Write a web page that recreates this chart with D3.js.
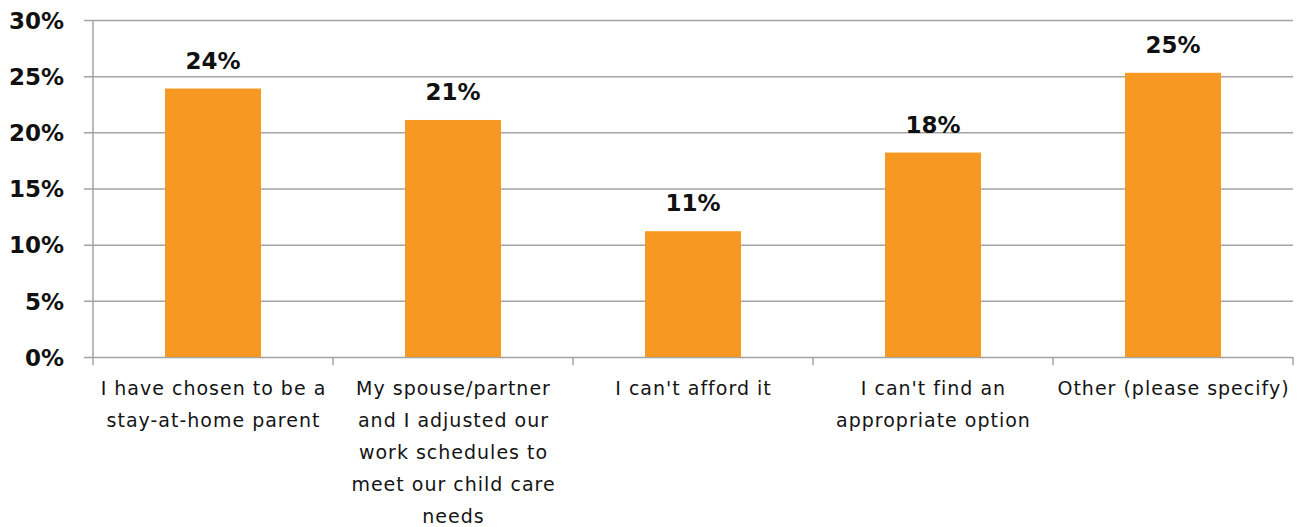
<!DOCTYPE html>
<html>
<head>
<meta charset="utf-8">
<script src="https://cdn.jsdelivr.net/npm/d3@7"></script>
<style>
  html, body { margin: 0; padding: 0; background: #ffffff; }
  svg { display: block; }
</style>
</head>
<body>
<svg id="chart" width="1302" height="527"></svg>
<script>
// Survey responses: reasons for the current child care arrangement
const categories = [
  "I have chosen to be a stay-at-home parent",
  "My spouse/partner and I adjusted our work schedules to meet our child care needs",
  "I can't afford it",
  "I can't find an appropriate option",
  "Other (please specify)"
];
// Category labels split into the lines they are printed on
const categoryLines = [
  ["I have chosen to be a", "stay-at-home parent"],
  ["My spouse/partner", "and I adjusted our", "work schedules to", "meet our child care", "needs"],
  ["I can't afford it"],
  ["I can't find an", "appropriate option"],
  ["Other (please specify)"]
];
const shares = [0.239, 0.211, 0.112, 0.182, 0.253];
const yTicks = [0, 0.05, 0.10, 0.15, 0.20, 0.25, 0.30];

const svg = d3.select("#chart");
const plotLeft = 93, plotRight = 1293, plotTop = 20, plotBottom = 357;

const x = d3.scaleBand()
  .domain(categories)
  .range([plotLeft, plotRight])
  .paddingInner(0.6)
  .paddingOuter(0.3);

const y = d3.scaleLinear().domain([0, 0.30]).range([plotBottom, plotTop]);
const pct = d3.format(".0%");

const gridColor = "#a3a3a3";

// Horizontal gridlines with short outward ticks on the left
const yAxis = svg.append("g")
  .attr("transform", `translate(${plotLeft},0)`)
  .call(d3.axisLeft(y).tickValues(yTicks).tickFormat(pct)
    .tickSizeInner(-(plotRight - plotLeft)).tickSizeOuter(0).tickPadding(29));
yAxis.select(".domain").remove();
yAxis.selectAll(".tick line")
  .attr("x1", -9)
  .attr("stroke", gridColor)
  .attr("stroke-width", 1.5);
yAxis.selectAll(".tick text")
  .attr("fill", "#111")
  .attr("font-family", "'DejaVu Sans', sans-serif")
  .attr("font-weight", "bold")
  .attr("font-size", 23)
  .attr("dy", "0.36em");

// Vertical axis line
svg.append("line")
  .attr("x1", plotLeft).attr("x2", plotLeft)
  .attr("y1", plotTop).attr("y2", plotBottom)
  .attr("stroke", gridColor).attr("stroke-width", 1.5);

// Category separators below the baseline
const step = x.step();
const edges = d3.range(categories.length + 1).map(i => plotLeft + i * step);
svg.append("g").selectAll("line")
  .data(edges)
  .join("line")
  .attr("x1", d => d).attr("x2", d => d)
  .attr("y1", plotBottom).attr("y2", plotBottom + 8)
  .attr("stroke", gridColor).attr("stroke-width", 1.5);

// Bars
svg.append("g").selectAll("rect")
  .data(shares)
  .join("rect")
  .attr("x", (d, i) => x(categories[i]))
  .attr("width", x.bandwidth())
  .attr("y", d => y(d))
  .attr("height", d => plotBottom - y(d))
  .attr("fill", "#f79822");

// Value labels
svg.append("g").selectAll("text")
  .data(shares)
  .join("text")
  .attr("x", (d, i) => x(categories[i]) + x.bandwidth() / 2)
  .attr("y", d => y(d) - 20)
  .attr("text-anchor", "middle")
  .attr("font-family", "'DejaVu Sans', sans-serif")
  .attr("font-weight", "bold")
  .attr("font-size", 23)
  .attr("fill", "#111")
  .text(d => pct(d));

// Category labels
const labels = svg.append("g").selectAll("text")
  .data(categoryLines)
  .join("text")
  .attr("text-anchor", "middle")
  .attr("font-family", "'DejaVu Sans', sans-serif")
  .attr("font-size", 19)
  .attr("letter-spacing", 1)
  .attr("fill", "#141414");
labels.each(function(lines, i) {
  const cx = x(categories[i]) + x.bandwidth() / 2 + 0.5;
  d3.select(this).selectAll("tspan")
    .data(lines)
    .join("tspan")
    .attr("x", cx)
    .attr("y", (d, j) => 395 + j * 32)
    .text(d => d);
});
</script>
</body>
</html>
